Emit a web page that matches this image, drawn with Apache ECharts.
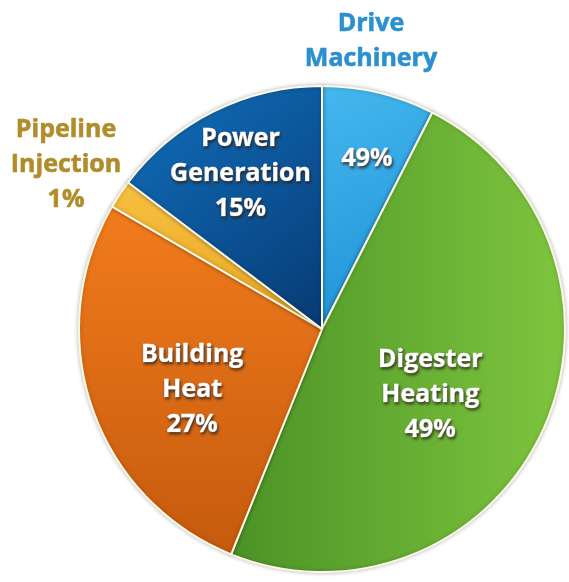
<!DOCTYPE html>
<html><head><meta charset="utf-8">
<script src="https://cdn.jsdelivr.net/npm/echarts@6/dist/echarts.min.js"></script>
<style>html,body{margin:0;padding:0;background:#fff}#c{width:569px;height:582px}</style>
</head><body><div id="c"></div>
<script>
// Data (slice shares, %)
var categories = ['Drive Machinery', 'Digester Heating', 'Building Heat', 'Pipeline Injection', 'Power Generation'];
var values = [7.5, 48.6, 27.3, 1.9, 14.7];
// Label texts as printed in the reference
var insideLabels = ['49%', 'Digester\nHeating\n49%', 'Building\nHeat\n27%', '', 'Power\nGeneration\n15%'];
var outsideLabels = ['Drive\nMachinery', '', '', 'Pipeline\nInjection\n1%', ''];

var lg = function (x, y, x2, y2, c1, c2) {
  return new echarts.graphic.LinearGradient(x, y, x2, y2, [{offset: 0, color: c1}, {offset: 1, color: c2}]);
};
var fills = [
  lg(0, 0, 1, 1, '#45b8f0', '#1b8fd4'),
  lg(0, 0, 1, 0, '#4b9226', '#7ec63e'),
  lg(0, 0, 0, 1, '#f27c1c', '#c55a0e'),
  lg(0, 0, 0, 1, '#f7c040', '#e9a624'),
  lg(0, 0, 1, 1, '#1170bd', '#073a74')
];
var insideOffsets = [[16, -49], [-5, 14], [-12, 21], [0, 0], [-26, -44]];
var outsideColors = ['#2c8fd0', '', '', '#b08d2a', ''];
var outsidePos = [[371, 6], null, null, [66, 112], null];

var data = categories.map(function (c, i) {
  return {
    name: c, value: values[i],
    itemStyle: {color: fills[i]},
    label: {show: insideLabels[i] !== '', formatter: insideLabels[i], offset: insideOffsets[i]}
  };
});

var FONT = '"Open Sans", "DejaVu Sans", sans-serif';

var graphics = [];
outsideLabels.forEach(function (t, i) {
  if (!t) return;
  graphics.push({
    type: 'text', x: outsidePos[i][0], y: outsidePos[i][1],
    style: {
      text: t, fill: outsideColors[i], align: 'center', verticalAlign: 'top',
      font: 'bold 25px ' + FONT, lineHeight: 35,
      stroke: outsideColors[i], lineWidth: 0.6,
      shadowColor: 'rgba(0,0,0,0.4)', shadowBlur: 3, shadowOffsetX: 1, shadowOffsetY: 1
    }
  });
});

var chart = echarts.init(document.getElementById('c'), null, {renderer: 'canvas'});
chart.setOption({
  backgroundColor: '#ffffff',
  animation: false,
  graphic: graphics,
  series: [{
    type: 'pie',
    center: [322, 329],
    radius: [0, 243],
    startAngle: 90,
    clockwise: true,
    silent: true,
    itemStyle: {borderColor: '#fffbe8', borderWidth: 2, shadowColor: 'rgba(0,0,0,0.25)', shadowBlur: 4},
    label: {
      position: 'inside', color: '#ffffff', align: 'center',
      fontFamily: FONT, fontWeight: 'bold', fontSize: 25, lineHeight: 35,
      textBorderColor: '#ffffff', textBorderWidth: 0.6,
      textShadowColor: 'rgba(40,30,20,0.8)', textShadowBlur: 3, textShadowOffsetX: 1, textShadowOffsetY: 2
    },
    labelLine: {show: false},
    data: data
  }]
});
</script></body></html>
